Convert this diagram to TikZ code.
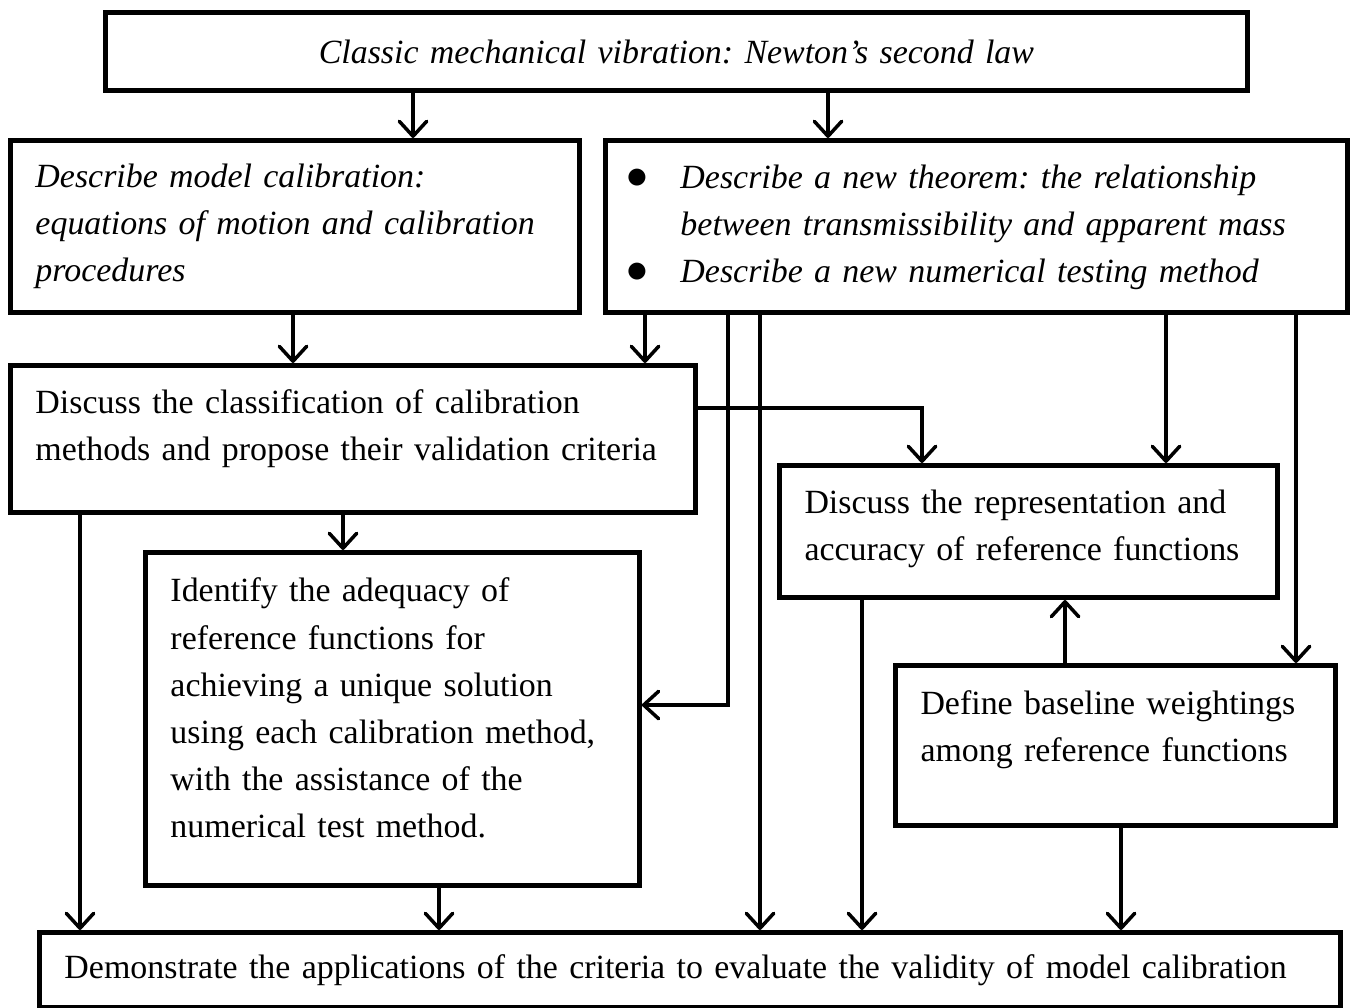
\documentclass[tikz,border=0pt]{standalone}
\usepackage{fontspec}
\setmainfont{Liberation Serif}
\usetikzlibrary{arrows.meta}
\frenchspacing

\tikzset{box/.style={draw,line width=0.1cm,rectangle,anchor=north west,inner xsep=0.5cm,inner ysep=0pt,align=left,font=\fontsize{19.3}{26.8}\selectfont},
arr/.style={line width=0.07cm,-{Straight Barb[length=0.3cm,width=0.55cm,round]}}}
\newcommand{\bigdot}{\hspace*{-0.08cm}{\fontsize{24}{24}\selectfont$\bullet$}}
\newcommand{\lift}[1]{\par\vspace{#1}\hrule height 0pt}

\begin{document}
\begin{tikzpicture}[x=0.02cm,y=-0.02cm]
\useasboundingbox (0,0) rectangle (1351,1007);

\node[box,text width=21.84cm,minimum height=1.56cm,align=center] (newton) at (103,10) {\itshape Classic mechanical vibration: Newton's second law};
\node[box,text width=10.38cm,minimum height=3.44cm] (calib) at (8,138) {\itshape Describe model calibration:\\ equations of motion and calibration\\ procedures};
\node[box,text width=13.84cm,minimum height=3.44cm] (theorem) at (603,138) {\itshape
\begin{tabular}{@{}p{1.0cm}@{}l@{}}
\bigdot & Describe a new theorem: the relationship\\
 & between transmissibility and apparent mass\\
\bigdot & Describe a new numerical testing method
\end{tabular}};
\node[box,text width=12.7cm,minimum height=2.94cm] (classify) at (8,363) {Discuss the classification of calibration\\ methods and propose their validation criteria\lift{0.4cm}};
\node[box,text width=8.88cm,minimum height=6.66cm] (adequacy) at (143,550) {Identify the adequacy of\\ reference functions for\\ achieving a unique solution\\ using each calibration method,\\ with the assistance of the\\ numerical test method.\lift{0.44cm}};
\node[box,text width=8.96cm,minimum height=2.64cm] (reffun) at (777,463) {Discuss the representation and\\ accuracy of reference functions\lift{0.12cm}};
\node[box,text width=7.8cm,minimum height=3.2cm] (weight) at (893,663) {Define baseline weightings\\ among reference functions\lift{0.64cm}};
\node[box,text width=25.02cm,minimum height=1.5cm] (apply) at (37,930) {Demonstrate the applications of the criteria to evaluate the validity of model calibration};

\draw[arr] (newton.south -| 413,0)--(calib.north -| 413,0);
\draw[arr] (newton.south -| 828,0)--(theorem.north -| 828,0);
\draw[arr] (calib.south -| 293,0)--(classify.north -| 293,0);
\draw[arr] (theorem.south -| 645,0)--(classify.north -| 645,0);
\draw[arr] (theorem.south -| 728,0) |- (adequacy.east |- 0,705);
\draw[arr] (theorem.south -| 760,0)--(apply.north -| 760,0);
\draw[arr] (theorem.south -| 1166,0)--(reffun.north -| 1166,0);
\draw[arr] (theorem.south -| 1296,0)--(weight.north -| 1296,0);
\draw[arr] (classify.east |- 0,408) -| (reffun.north -| 922,0);
\draw[arr] (classify.south -| 80,0)--(apply.north -| 80,0);
\draw[arr] (classify.south -| 343,0)--(adequacy.north -| 343,0);
\draw[arr] (adequacy.south -| 439,0)--(apply.north -| 439,0);
\draw[arr] (reffun.south -| 862,0)--(apply.north -| 862,0);
\draw[arr] (weight.north -| 1065,0)--(reffun.south -| 1065,0);
\draw[arr] (weight.south -| 1121,0)--(apply.north -| 1121,0);

\end{tikzpicture}
\end{document}
